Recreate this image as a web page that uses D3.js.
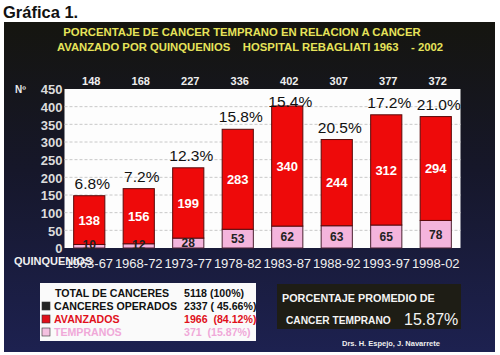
<!DOCTYPE html>
<html>
<head>
<meta charset="utf-8">
<script src="https://d3js.org/d3.v7.min.js"></script>
<style>
  body { margin: 0; background: #fff; }
  svg { display: block; font-family: "Liberation Sans", Arial, sans-serif; }
</style>
</head>
<body>
<div id="chart"></div>
<script>
// data
const periods = ["1963-67", "1968-72", "1973-77", "1978-82", "1983-87", "1988-92", "1993-97", "1998-02"];
const avanzados = [138, 156, 199, 283, 340, 244, 312, 294];
const tempranos = [10, 12, 28, 53, 62, 63, 65, 78];
const totals = [148, 168, 227, 336, 402, 307, 377, 372];
const percents = ["6.8%", "7.2%", "12.3%", "15.8%", "15.4%", "20.5%", "17.2%", "21.0%"];
const yTicks = [0, 50, 100, 150, 200, 250, 300, 350, 400, 450];

const legendRows = [
  { label: "TOTAL DE CANCERES", value: "5118 (100%)", color: "#111", mark: null },
  { label: "CANCERES OPERADOS", value: "2337 ( 45.66%)", color: "#111", mark: "#222" },
  { label: "AVANZADOS", value: "1966  (84.12%)", color: "#e0101a", mark: "#e0101a" },
  { label: "TEMPRANOS", value: "371  (15.87%)", color: "#f0a8d8", mark: "#f4c0e0" }
];

const width = 500, height = 355;
const plot = { left: 64.5, right: 460.5, top: 89, bottom: 248 };

const svg = d3.select("#chart").append("svg")
  .attr("width", width)
  .attr("height", height);

const defs = svg.append("defs");
const grad = defs.append("linearGradient")
  .attr("id", "bg").attr("x1", 0).attr("y1", 0).attr("x2", 0).attr("y2", 1);
grad.append("stop").attr("offset", "0%").attr("stop-color", "#15150f");
grad.append("stop").attr("offset", "45%").attr("stop-color", "#16172a");
grad.append("stop").attr("offset", "100%").attr("stop-color", "#1d2150");

// heading
svg.append("text")
  .attr("x", 3).attr("y", 18)
  .style("font-size", "16.5px").style("font-weight", "bold")
  .attr("fill", "#111")
  .text("Gráfica 1.");

// dark panel
svg.append("rect")
  .attr("x", 4).attr("y", 22)
  .attr("width", 491).attr("height", 330)
  .attr("fill", "url(#bg)");

// title
const title = svg.append("text")
  .attr("fill", "#e6e35a")
  .style("font-size", "11.3px").style("font-weight", "bold")
  .attr("text-anchor", "middle");
title.append("tspan").attr("x", 242).attr("y", 36)
  .text("PORCENTAJE DE CANCER TEMPRANO EN RELACION A CANCER");
title.append("tspan").attr("x", 250).attr("y", 51)
  .attr("xml:space", "preserve")
  .text("AVANZADO POR QUINQUENIOS    HOSPITAL REBAGLIATI 1963    - 2002");

// scales
const x = d3.scaleBand()
  .domain(periods)
  .range([plot.left, plot.right])
  .paddingInner(0.37)
  .paddingOuter(0.185);

const y = d3.scaleLinear()
  .domain([0, 450])
  .range([plot.bottom, plot.top]);

// white plot area
svg.append("rect")
  .attr("x", plot.left).attr("y", plot.top)
  .attr("width", plot.right - plot.left)
  .attr("height", plot.bottom - plot.top)
  .attr("fill", "#fdfdfd");

// gridlines
svg.append("g")
  .selectAll("line")
  .data(yTicks.filter(d => d > 0 && d < 450))
  .enter().append("line")
  .attr("x1", plot.left).attr("x2", plot.right)
  .attr("y1", d => y(d)).attr("y2", d => y(d))
  .attr("stroke", "#c8c8c8")
  .attr("stroke-width", 1)
  .attr("stroke-dasharray", "3,2");

// y axis
const yAxis = svg.append("g")
  .attr("transform", "translate(" + (plot.left - 2) + ",0)")
  .call(d3.axisLeft(y).tickValues(yTicks).tickSize(0).tickPadding(0));
yAxis.select(".domain").remove();
yAxis.selectAll("text")
  .attr("fill", "#dcdcdc")
  .style("font-size", "13px").style("font-weight", "bold")
  .style("font-family", "Liberation Sans, Arial, sans-serif")
  .attr("dy", "0.36em");

svg.append("text")
  .attr("x", 15).attr("y", 93)
  .attr("fill", "#e8e8e8")
  .style("font-size", "10px").style("font-weight", "bold")
  .text("Nº");

// bars
const bars = svg.append("g");

bars.selectAll(".temp")
  .data(periods)
  .enter().append("rect")
  .attr("class", "temp")
  .attr("x", d => x(d))
  .attr("width", x.bandwidth())
  .attr("y", (d, i) => y(tempranos[i]))
  .attr("height", (d, i) => y(0) - y(tempranos[i]))
  .attr("fill", "#f4b4dc")
  .attr("stroke", "#4a2030")
  .attr("stroke-width", 1);

bars.selectAll(".avz")
  .data(periods)
  .enter().append("rect")
  .attr("class", "avz")
  .attr("x", d => x(d))
  .attr("width", x.bandwidth())
  .attr("y", (d, i) => y(tempranos[i] + avanzados[i]))
  .attr("height", (d, i) => y(tempranos[i]) - y(tempranos[i] + avanzados[i]))
  .attr("fill", "#ee0a0a")
  .attr("stroke", "#5a0a0a")
  .attr("stroke-width", 1);

// value labels inside the bars
bars.selectAll(".avzLabel")
  .data(periods)
  .enter().append("text")
  .attr("x", d => x(d) + x.bandwidth() / 2)
  .attr("y", (d, i) => y(tempranos[i] + avanzados[i] / 2))
  .attr("dy", "0.36em")
  .attr("text-anchor", "middle")
  .attr("fill", "#fff")
  .style("font-size", "13px").style("font-weight", "bold")
  .text((d, i) => avanzados[i]);

bars.selectAll(".tempLabel")
  .data(periods)
  .enter().append("text")
  .attr("x", d => x(d) + x.bandwidth() / 2)
  .attr("y", (d, i) => y(Math.max(tempranos[i], 16) / 2))
  .attr("dy", "0.36em")
  .attr("text-anchor", "middle")
  .attr("fill", "#222")
  .style("font-size", "12px").style("font-weight", "bold")
  .text((d, i) => tempranos[i]);

// percentage labels above bars
bars.selectAll(".pct")
  .data(periods)
  .enter().append("text")
  .attr("x", d => x(d) + x.bandwidth() / 2 + 3)
  .attr("y", (d, i) => Math.max(y(totals[i]) - 7, plot.top + 18))
  .attr("text-anchor", "middle")
  .attr("fill", "#111")
  .style("font-size", "15.5px")
  .text((d, i) => percents[i]);

// totals above the plot
svg.append("g").selectAll("text")
  .data(periods)
  .enter().append("text")
  .attr("x", d => x(d) + x.bandwidth() / 2 + 2)
  .attr("y", 85)
  .attr("text-anchor", "middle")
  .attr("fill", "#eee")
  .style("font-size", "11px").style("font-weight", "bold")
  .text((d, i) => totals[i]);

// x axis labels
const xAxis = svg.append("g")
  .attr("transform", "translate(0," + plot.bottom + ")")
  .call(d3.axisBottom(x).tickSize(0).tickPadding(11));
xAxis.select(".domain").remove();
xAxis.selectAll("text")
  .attr("fill", "#f0f0f0")
  .style("font-size", "13px")
  .style("font-family", "Liberation Sans, Arial, sans-serif");

svg.append("text")
  .attr("x", 14).attr("y", 265)
  .attr("fill", "#f0f0f0")
  .style("font-size", "11px").style("font-weight", "bold")
  .text("QUINQUENIOS");

// legend box
const legend = svg.append("g");
legend.append("rect")
  .attr("x", 40).attr("y", 283)
  .attr("width", 216).attr("height", 58)
  .attr("fill", "#fafafa");

const rows = legend.selectAll(".row")
  .data(legendRows)
  .enter().append("g")
  .attr("transform", (d, i) => "translate(0," + (297 + i * 13) + ")");

rows.filter(d => d.mark)
  .append("rect")
  .attr("x", 42).attr("y", -8)
  .attr("width", 8).attr("height", 8)
  .attr("fill", d => d.mark)
  .attr("stroke", "#333").attr("stroke-width", 0.6);

rows.append("text")
  .attr("x", (d, i) => i === 0 ? 55 : 54)
  .attr("fill", d => d.color)
  .style("font-size", "10.6px").style("font-weight", "bold")
  .text(d => d.label);

rows.append("text")
  .attr("x", 184)
  .attr("fill", d => d.color)
  .attr("xml:space", "preserve")
  .style("font-size", "10.6px").style("font-weight", "bold")
  .text(d => d.value);

// average box
const avg = svg.append("g");
avg.append("rect")
  .attr("x", 277).attr("y", 284)
  .attr("width", 184).attr("height", 45)
  .attr("fill", "#1e1d15");
avg.append("text")
  .attr("x", 282).attr("y", 302)
  .attr("fill", "#f4f4f4")
  .style("font-size", "10.8px").style("font-weight", "bold")
  .text("PORCENTAJE PROMEDIO DE");
avg.append("text")
  .attr("x", 286).attr("y", 324)
  .attr("fill", "#f4f4f4")
  .style("font-size", "10.2px").style("font-weight", "bold")
  .text("CANCER TEMPRANO");
avg.append("text")
  .attr("x", 404).attr("y", 325)
  .attr("fill", "#f4f4f4")
  .style("font-size", "16px")
  .text("15.87%");

svg.append("text")
  .attr("x", 342).attr("y", 346)
  .attr("fill", "#eee")
  .style("font-size", "7.5px").style("font-weight", "bold")
  .text("Drs. H. Espejo, J. Navarrete");
</script>
</body>
</html>
